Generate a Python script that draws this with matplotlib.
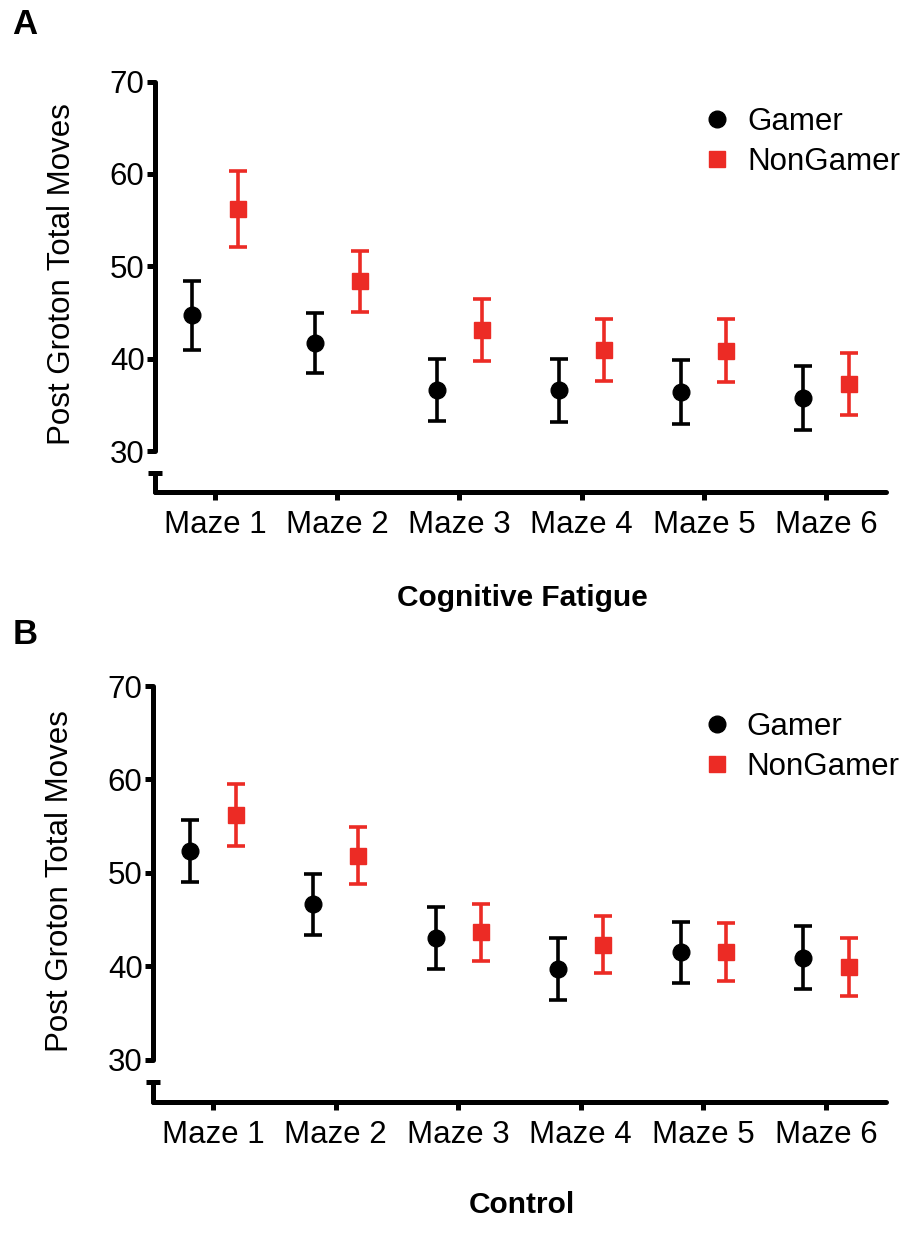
import matplotlib
matplotlib.use("Agg")
import matplotlib.pyplot as plt
import numpy as np

plt.rcParams["font.family"] = ["Liberation Sans", "DejaVu Sans"]

# Data (mean +/- error)
mazes = ["Maze 1", "Maze 2", "Maze 3", "Maze 4", "Maze 5", "Maze 6"]
groups = ["Gamer", "NonGamer"]

# Panel A: Cognitive Fatigue
fatigue_gamer = [44.7, 41.7, 36.6, 36.6, 36.4, 35.8]
fatigue_gamer_err = [3.7, 3.25, 3.35, 3.4, 3.45, 3.45]
fatigue_nongamer = [56.2, 48.4, 43.15, 40.95, 40.9, 37.3]
fatigue_nongamer_err = [4.15, 3.3, 3.35, 3.35, 3.4, 3.35]

# Panel B: Control
control_gamer = [52.35, 46.65, 43.05, 39.7, 41.5, 40.95]
control_gamer_err = [3.35, 3.25, 3.35, 3.3, 3.3, 3.35]
control_nongamer = [56.2, 51.85, 43.65, 42.35, 41.6, 39.9]
control_nongamer_err = [3.3, 3.05, 3.05, 3.05, 3.1, 3.1]

RED = "#EC2B25"
BLACK = "#000000"
FS = 22.5
SPINE_W = 3.6


def draw_panel(ax, gamer, gamer_err, nongamer, nongamer_err, ybottom):
    x = np.arange(len(mazes))
    off = 0.185
    g = ax.errorbar(x - off, gamer, yerr=gamer_err, fmt="o", color=BLACK,
                    markersize=12, elinewidth=2.6, capsize=6.4, capthick=2.6,
                    clip_on=False)
    ng = ax.errorbar(x + off, nongamer, yerr=nongamer_err, fmt="s", color=RED,
                     markersize=11.5, elinewidth=2.6, capsize=6.4, capthick=2.6,
                     clip_on=False)

    ax.set_xlim(-0.49, 5.49)
    ax.set_ylim(ybottom, 70)
    ax.set_xticks(x)
    ax.set_xticklabels(mazes, fontsize=FS)
    ax.set_yticks([30, 40, 50, 60, 70])
    ax.tick_params(axis="y", labelsize=FS, length=6, width=SPINE_W, pad=1.5,
                   direction="out")
    ax.tick_params(axis="x", length=6, width=SPINE_W, pad=7, direction="out")

    for s in ["top", "right"]:
        ax.spines[s].set_visible(False)
    for s in ["left", "bottom"]:
        ax.spines[s].set_linewidth(SPINE_W)
        ax.spines[s].set_capstyle("round")
    ax.spines["left"].set_bounds(30, 70)

    # short segment below the axis break
    seg_top = 27.7
    ax.plot([0, 0], [ybottom, seg_top], transform=ax.get_yaxis_transform(),
            color=BLACK, lw=SPINE_W, solid_capstyle="round", clip_on=False)
    ax.plot([0], [seg_top], transform=ax.get_yaxis_transform(), color=BLACK,
            marker="_", markersize=10, markeredgewidth=SPINE_W, clip_on=False)

    ax.set_ylabel("Post Groton Total Moves", fontsize=FS)
    ax.yaxis.set_label_coords(-0.107, 0.53)

    ax.legend([g[0], ng[0]], groups, loc="upper left",
              bbox_to_anchor=(0.752, 0.937), frameon=False, fontsize=FS,
              handlelength=0.8, handletextpad=0.55, labelspacing=0.3,
              borderpad=0, borderaxespad=0)


fig = plt.figure(figsize=(9.13, 12.5), dpi=100)
ax_a = fig.add_axes([155 / 913, 1 - 492 / 1250, 731 / 913, 410.5 / 1250])
ax_b = fig.add_axes([153 / 913, 1 - 1101.7 / 1250, 733 / 913, 415.7 / 1250])

draw_panel(ax_a, fatigue_gamer, fatigue_gamer_err, fatigue_nongamer,
           fatigue_nongamer_err, 25.6)
draw_panel(ax_b, control_gamer, control_gamer_err, control_nongamer,
           control_nongamer_err, 25.54)

fig.text(522 / 913, 1 - 598 / 1250, "Cognitive Fatigue", fontsize=21.5,
         fontweight="bold", ha="center", va="center")
fig.text(522 / 913, 1 - 1205 / 1250, "Control", fontsize=21.5,
         fontweight="bold", ha="center", va="center")
fig.text(25 / 913, 1 - 25 / 1250, "A", fontsize=25, fontweight="bold",
         ha="center", va="center")
fig.text(25 / 913, 1 - 635 / 1250, "B", fontsize=25, fontweight="bold",
         ha="center", va="center")

fig.savefig("out.png", dpi=100)
